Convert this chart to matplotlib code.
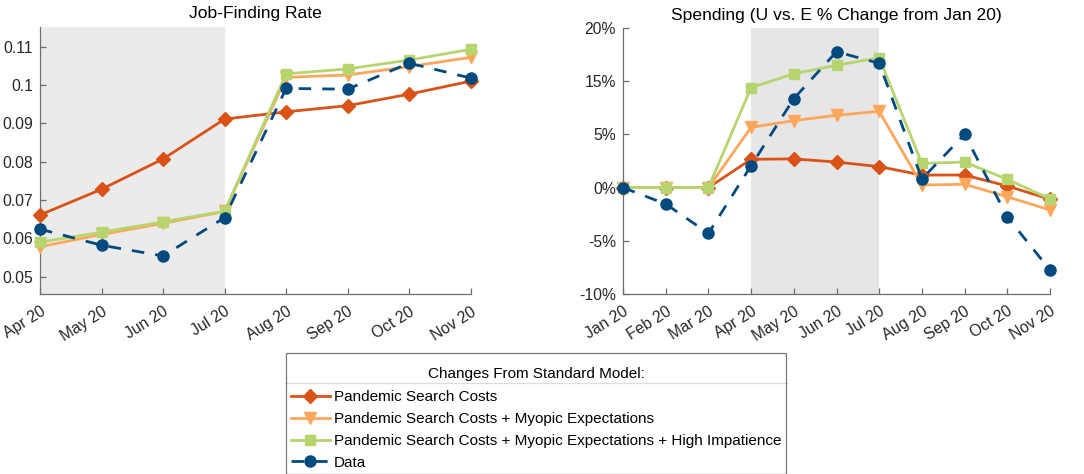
import matplotlib
matplotlib.use("Agg")
import matplotlib.pyplot as plt
from matplotlib.lines import Line2D
from matplotlib.offsetbox import VPacker
import numpy as np

plt.rcParams['font.family'] = ['Liberation Sans', 'DejaVu Sans']

# ---------------- data ----------------
jf_months = ["Apr 20", "May 20", "Jun 20", "Jul 20", "Aug 20", "Sep 20", "Oct 20", "Nov 20"]
jf_search = [0.0661, 0.0728, 0.0807, 0.0911, 0.0930, 0.0946, 0.0976, 0.1010]
jf_myopic = [0.0578, 0.0610, 0.0639, 0.0670, 0.1020, 0.1026, 0.1048, 0.1072]
jf_impat = [0.0590, 0.0616, 0.0643, 0.0671, 0.1029, 0.1042, 0.1065, 0.1093]
jf_data = [0.0624, 0.0582, 0.0554, 0.0654, 0.0991, 0.0989, 0.1057, 0.1018]

sp_months = ["Jan 20", "Feb 20", "Mar 20", "Apr 20", "May 20", "Jun 20", "Jul 20",
             "Aug 20", "Sep 20", "Oct 20", "Nov 20"]
sp_search = [0.0, 0.0, 0.0, 2.66, 2.70, 2.40, 1.97, 1.18, 1.18, 0.15, -1.10]
sp_myopic = [0.0, 0.0, 0.0, 5.67, 6.29, 6.80, 7.17, 0.24, 0.31, -0.86, -2.10]
sp_impat = [0.0, 0.0, 0.0, 9.40, 10.70, 11.50, 12.20, 2.28, 2.40, 0.78, -1.07]
sp_data = [0.0, -1.54, -4.30, 2.06, 8.36, 12.77, 11.68, 0.81, 5.00, -2.76, -7.74]

sp_yticks = [-10, -5, 0, 5, 10, 15]
sp_yticklabels = ["-10%", "-5%", "0%", "5%", "15%", "20%"]
jf_yticks = [0.05, 0.06, 0.07, 0.08, 0.09, 0.10, 0.11]
jf_yticklabels = ["0.05", "0.06", "0.07", "0.08", "0.09", "0.1", "0.11"]

labels = ["Pandemic Search Costs",
          "Pandemic Search Costs + Myopic Expectations",
          "Pandemic Search Costs + Myopic Expectations + High Impatience",
          "Data"]

# ---------------- styles ----------------
c_red = '#D95319'
c_orange = '#FDA75C'
c_green = '#B6D56F'
c_blue = '#004A7F'
spine_c = '#6E6E6E'
text_c = '#262626'

W, H = 1084, 474
fig = plt.figure(figsize=(W / 100, H / 100), dpi=100)


def ax_rect(x0, y0, x1, y1):
    return [x0 / W, 1 - y1 / H, (x1 - x0) / W, (y1 - y0) / H]


ax1 = fig.add_axes(ax_rect(40, 26.7, 470.7, 294.3))
ax2 = fig.add_axes(ax_rect(623, 28, 1050, 294))

styles = [
    dict(color=c_red, marker='D', ms=7.5, lw=2, ls='-'),
    dict(color=c_orange, marker='v', ms=9, lw=2, ls='-'),
    dict(color=c_green, marker='s', ms=7, lw=2, ls='-'),
    dict(color=c_blue, marker='o', ms=8, lw=2, ls=(0, (4.5, 4))),
]


def style_axes(ax, months, yticks, yticklabels, ylim, title):
    x = np.arange(len(months))
    ax.set_xlim(0, len(months) - 1)
    ax.set_ylim(*ylim)
    ax.set_xticks(x)
    ax.set_xticklabels(months, rotation=32, ha='right', va='top', rotation_mode='anchor')
    ax.set_yticks(yticks)
    ax.set_yticklabels(yticklabels)
    for s in ['top', 'right']:
        ax.spines[s].set_visible(False)
    for s in ['left', 'bottom']:
        ax.spines[s].set_color(spine_c)
        ax.spines[s].set_linewidth(0.9)
    ax.tick_params(direction='in', length=4, width=0.9, color=spine_c,
                   labelsize=11.3, labelcolor=text_c, pad=5)
    ax.tick_params(axis='x', pad=7)
    ax.set_title(title, fontsize=12.6, color='black', pad=6)
    return x


x1 = style_axes(ax1, jf_months, jf_yticks, jf_yticklabels, (0.0454, 0.1152), "Job-Finding Rate")
ax1.axvspan(0, 3, color='#EBEBEB', lw=0, zorder=0)
for ys, st, lab in zip([jf_search, jf_myopic, jf_impat, jf_data], styles, labels):
    ax1.plot(x1, ys, label=lab, clip_on=False, zorder=3, **st)

x2 = style_axes(ax2, sp_months, sp_yticks, sp_yticklabels, (-10, 15),
                "Spending (U vs. E % Change from Jan 20)")
ax2.axvspan(3, 6, color='#E6E6E6', lw=0, zorder=0)
handles = []
for ys, st, lab in zip([sp_search, sp_myopic, sp_impat, sp_data], styles, labels):
    h, = ax2.plot(x2, ys, label=lab, clip_on=False, zorder=3, **st)
    handles.append(h)

leg = fig.legend(handles, labels, loc='upper left',
                 bbox_to_anchor=(286 / W, 1 - 353 / H), borderaxespad=0,
                 title="Changes From Standard Model:", title_fontsize=11, fontsize=11,
                 frameon=True, fancybox=False, edgecolor='#5A5A5A',
                 handlelength=2.6, handletextpad=0.25, labelspacing=0.51,
                 borderpad=0.3)
leg.get_frame().set_linewidth(0.9)
leg._legend_box._children[0] = VPacker(children=[leg._legend_title_box],
                                       pad=6.5, sep=0, align='center')
leg._legend_box.sep = 0.5

fig.canvas.draw()
r = fig.canvas.get_renderer()
fb = leg.get_frame().get_window_extent(r)
tb = leg.get_title().get_window_extent(r)
t0 = leg.get_texts()[0].get_window_extent(r)
ysep = ((tb.y0 + t0.y1) / 2 + 2.5) / H
fig.add_artist(Line2D([fb.x0 / W, fb.x1 / W], [ysep, ysep], color='#5A5A5A', lw=0.9,
                      transform=fig.transFigure))

fig.savefig("out.png", dpi=100)
